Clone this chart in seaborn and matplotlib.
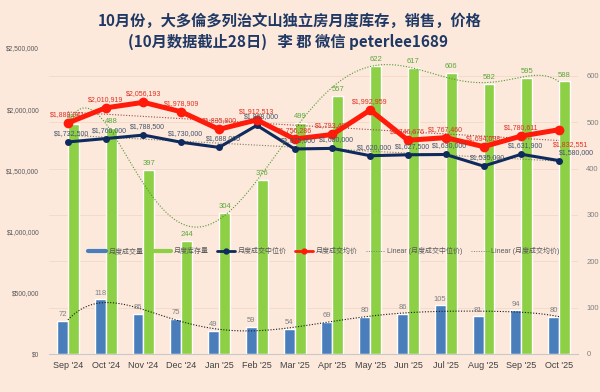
import numpy as np
import pandas as pd
import seaborn as sns
import matplotlib.pyplot as plt
from matplotlib.lines import Line2D
from matplotlib.ticker import FuncFormatter

months = ["Sep '24", "Oct '24", "Nov '24", "Dec '24", "Jan '25", "Feb '25", "Mar '25",
          "Apr '25", "May '25", "Jun '25", "Jul '25", "Aug '25", "Sep '25", "Oct '25"]
sales = [72, 118, 86, 75, 49, 59, 54, 69, 80, 86, 105, 81, 94, 80]
inventory = [497, 488, 397, 244, 304, 376, 499, 557, 622, 617, 606, 582, 595, 588]
median_price = [1732500, 1760000, 1788500, 1730000, 1688000, 1868000, 1675000,
                1680000, 1620000, 1627500, 1630000, 1535000, 1631900, 1580000]
mean_price = [1888041, 2010919, 2056193, 1978909, 1835800, 1912513, 1756286,
              1793408, 1992959, 1746676, 1767460, 1694098, 1780611, 1832551]

BG = '#FCE9DC'
BLUE = '#4A7EBB'
GREEN = '#8DCF45'
NAVY = '#0F2A5C'
RED = '#FF1A0A'

sns.set_theme(style='white')
plt.rcParams['font.family'] = ['Liberation Sans', 'Noto Sans CJK SC', 'DejaVu Sans']

fig = plt.figure(figsize=(6, 3.92), dpi=100, facecolor=BG)
ax = fig.add_axes([49 / 600, 1 - 354 / 392, 529 / 600, 306 / 392])
ax.patch.set_alpha(0)

n = len(months)
x = np.arange(n)
bars = pd.DataFrame({
    'month': months * 2,
    'value': sales + inventory,
    'series': ['月度成交量'] * n + ['月度库存量'] * n,
})
sns.barplot(data=bars, x='month', y='value', hue='series', palette=[BLUE, GREEN],
            width=0.58, gap=0, saturation=1, legend=False, ax=ax, zorder=2)
ax.set_xlim(-0.5, n - 0.5)
ax.set_ylim(0, 660)
ax.set_yticks(range(0, 700, 100))
ax.set_xlabel('')
ax.set_ylabel('')
ax.grid(axis='y', color='#F2D8C8', lw=0.6, zorder=0)
for s in ['left', 'right', 'top']:
    ax.spines[s].set_visible(False)
ax.spines['bottom'].set_color('#C8C8C8')
ax.spines['bottom'].set_linewidth(0.8)

for i in range(n):
    ax.text(i - 0.145, sales[i] + 6, str(sales[i]), ha='center', va='bottom',
            fontsize=5.5, color='#7F7F7F', zorder=5)
    ax.text(i + 0.145, inventory[i] + 6, str(inventory[i]), ha='center', va='bottom',
            fontsize=5.5, color='#5BA83A', zorder=5)

# polynomial trend curves for the bar series
xs = np.linspace(0, n - 1, 200)
ax.plot(xs, np.polyval(np.polyfit(x, inventory, 6), xs), ls=(0, (1, 1.5)),
        color='#4E9A2E', lw=0.8, zorder=4)
ax.plot(xs, np.polyval(np.polyfit(x, sales, 6), xs), ls=(0, (1, 1.5)),
        color='#1A1A1A', lw=0.8, zorder=4)

# price lines on the left axis
ax2 = ax.twinx()
ax2.yaxis.tick_left()
ax.yaxis.tick_right()
ax.tick_params(axis='y', labelsize=5.5, labelcolor='#7F7F7F', length=0, pad=6)
ax.tick_params(axis='x', labelsize=6.5, labelcolor='#404040', length=0, pad=5)
ax2.set_ylim(0, 2500000)
ax2.set_yticks(range(0, 2500001, 500000))
ax2.yaxis.set_major_formatter(FuncFormatter(lambda v, p: f'${v:,.0f}'))
ax2.tick_params(axis='y', labelsize=4.8, labelcolor='#595959', length=0, pad=7)
for s in ax2.spines.values():
    s.set_visible(False)

ax2.plot(x, np.polyval(np.polyfit(x, median_price, 1), x), ls=(0, (1, 1.5)),
         color='#7F7F60', lw=0.8)
ax2.plot(x, np.polyval(np.polyfit(x, mean_price, 1), x), ls=(0, (1, 1.5)),
         color='#A04848', lw=0.8)
sns.lineplot(x=x, y=median_price, color=NAVY, lw=2.2, marker='o', markersize=5,
             markeredgewidth=0, ax=ax2)
sns.lineplot(x=x, y=mean_price, color=RED, lw=3.6, marker='o', markersize=7,
             markeredgewidth=0, ax=ax2)
ax2.set_xlim(-0.5, n - 0.5)

for i in range(n):
    if i == n - 1:
        ax2.annotate(f'${median_price[i]:,}', (i, median_price[i]), xytext=(0, 5),
                     textcoords='offset points', ha='left', fontsize=5, color='#44546A')
        ax2.annotate(f'${mean_price[i]:,}', (i, mean_price[i]), xytext=(8, -12),
                     textcoords='offset points', ha='center', fontsize=5, color='#E03020')
    else:
        ax2.annotate(f'${median_price[i]:,}', (i, median_price[i]), xytext=(3, 5),
                     textcoords='offset points', ha='center', fontsize=5, color='#44546A')
        ax2.annotate(f'${mean_price[i]:,}', (i, mean_price[i]), xytext=(0, 5),
                     textcoords='offset points', ha='center', fontsize=5, color='#E03020')

handles = [
    Line2D([], [], color=BLUE, lw=3),
    Line2D([], [], color=GREEN, lw=3),
    Line2D([], [], color=NAVY, lw=2, marker='o', markersize=3.5),
    Line2D([], [], color=RED, lw=2, marker='o', markersize=3.5),
    Line2D([], [], color='#7F7F7F', lw=0.7, ls=(0, (1, 1.5))),
    Line2D([], [], color='#7F7F7F', lw=0.7, ls=(0, (1, 1.5))),
]
labels = ['月度成交量', '月度库存量', '月度成交中位价', '月度成交均价',
          'Linear (月度成交中位价)', 'Linear (月度成交均价)']
fig.legend(handles, labels, loc='center', bbox_to_anchor=(0.54, 1 - 251 / 392),
           ncol=6, frameon=False, fontsize=5, labelcolor='#595959',
           handlelength=2.6, columnspacing=1.2, handletextpad=0.4)

fig.text(0.482, 1 - 21 / 392, '10月份，大多倫多列治文山独立房月度库存，销售，价格',
         ha='center', va='center', fontsize=11, fontweight='bold', color='#1F3864',
         family=['Noto Sans CJK SC', 'DejaVu Sans'])
fig.text(0.48, 1 - 42 / 392, '(10月数据截止28日)   李 郡 微信 peterlee1689',
         ha='center', va='center', fontsize=11, fontweight='bold', color='#1F3864',
         family=['Noto Sans CJK SC', 'DejaVu Sans'])

fig.savefig('out.png', dpi=100, facecolor=BG)
